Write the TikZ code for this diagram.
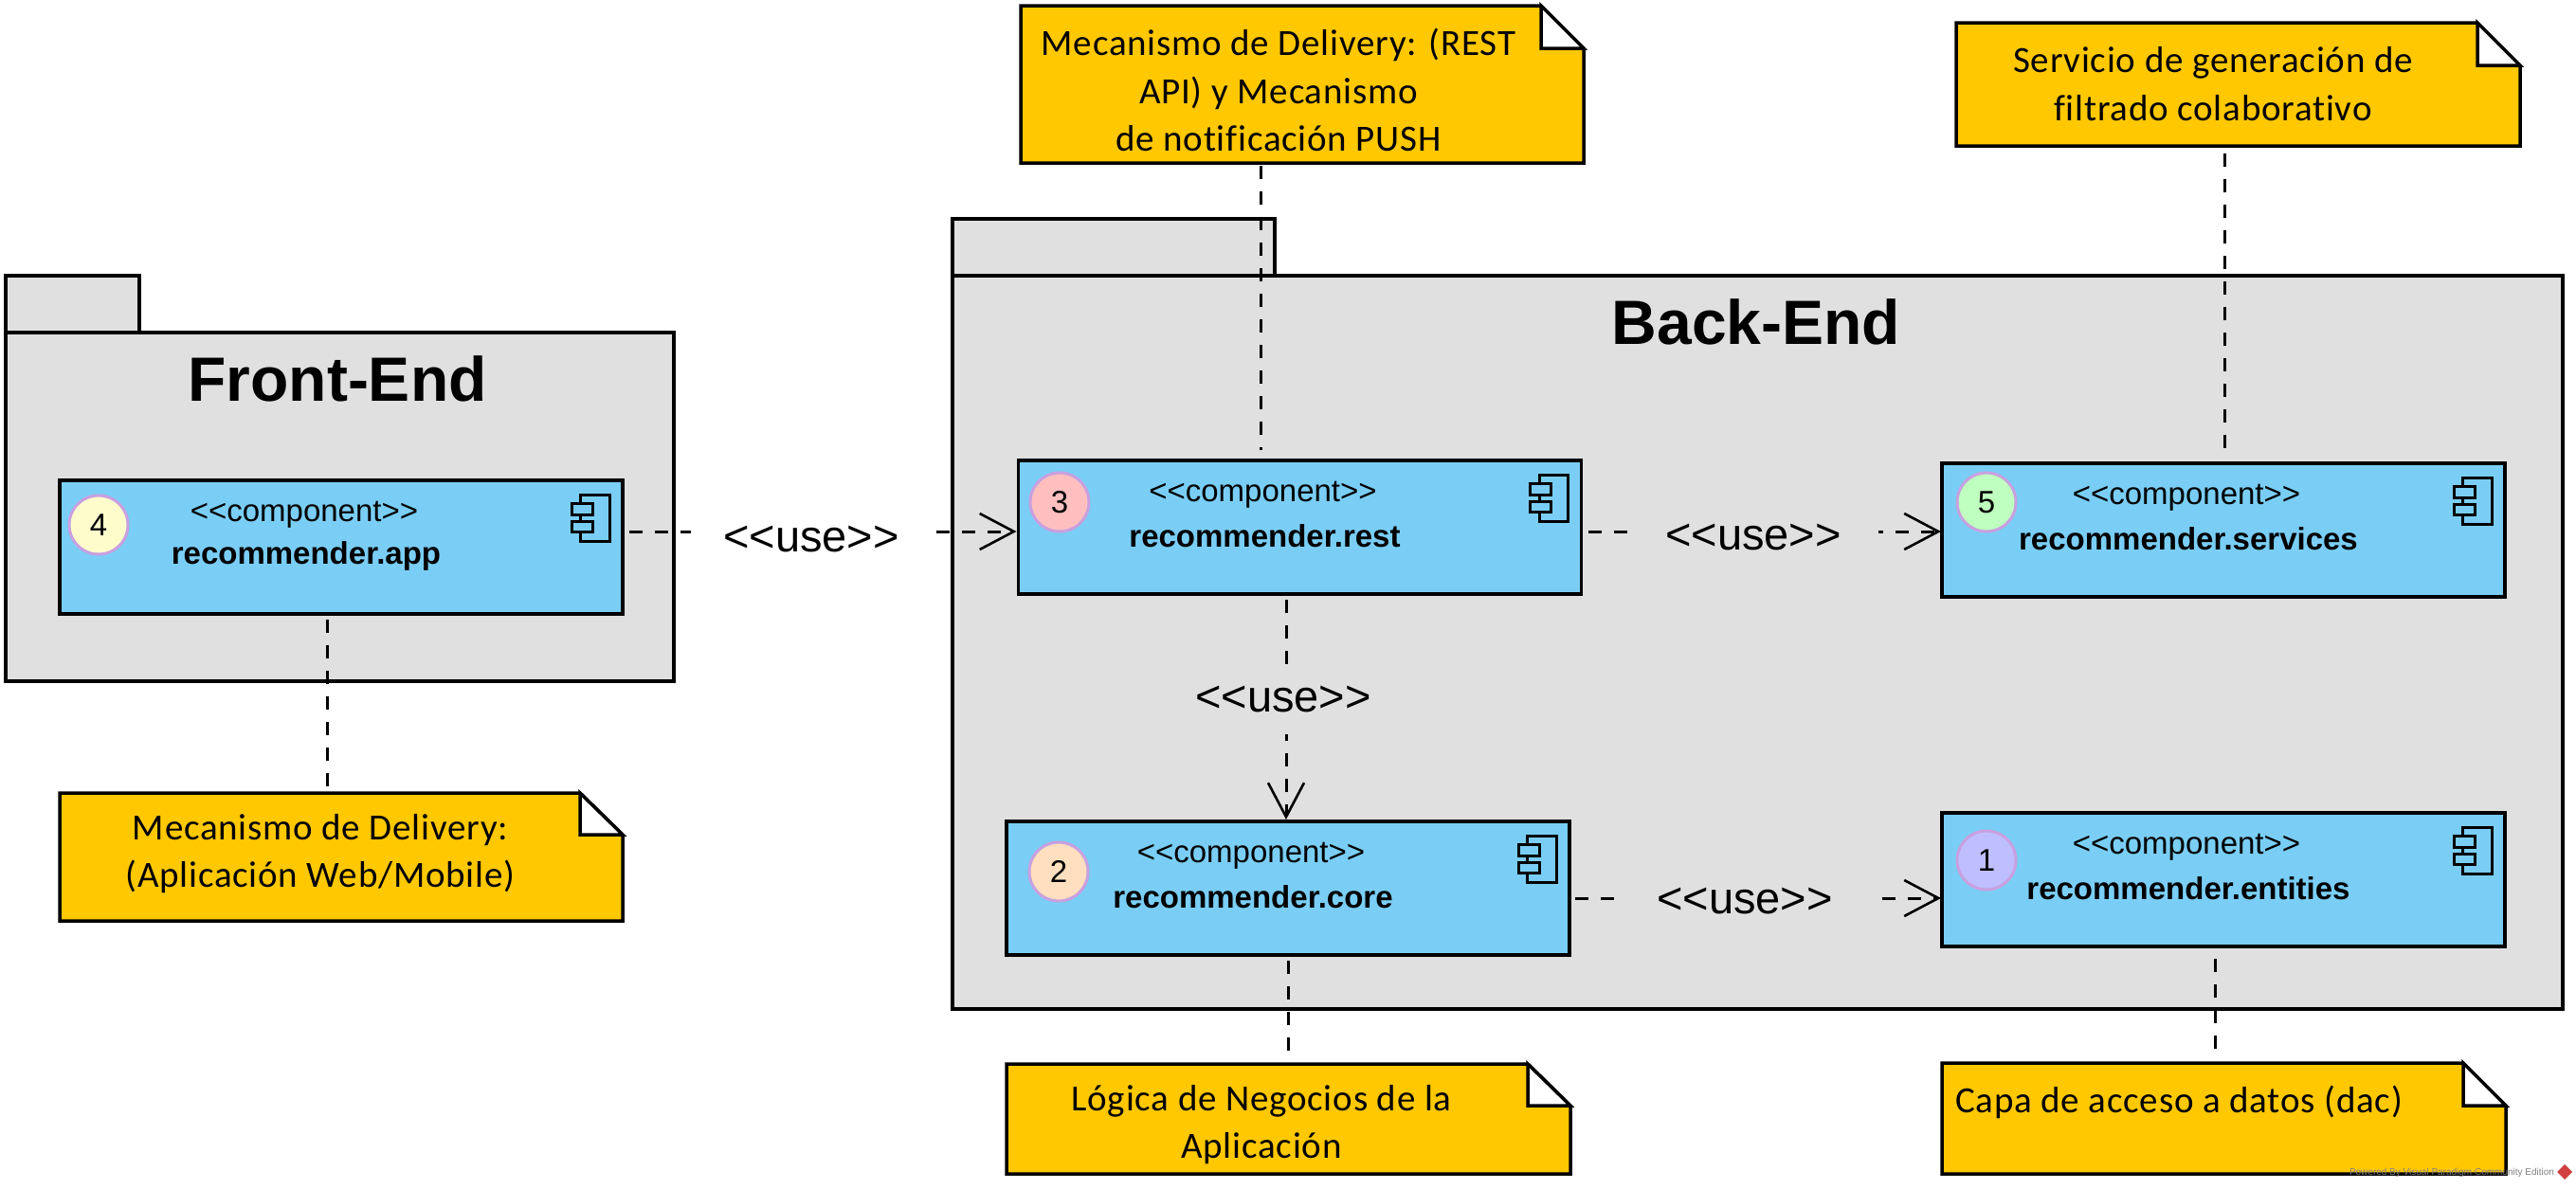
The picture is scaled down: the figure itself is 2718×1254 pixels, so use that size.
\documentclass[tikz,border=0pt]{standalone}
\usepackage{fontspec}
\usetikzlibrary{arrows.meta,calc}
\newfontfamily\arialf{Liberation Sans}
\newfontfamily\calf[LetterSpace=2,Ligatures={NoCommon}]{Carlito}
\definecolor{pkggray}{HTML}{E0E0E0}
\definecolor{compblue}{HTML}{7ACEF5}
\definecolor{noteyel}{HTML}{FFC800}
\definecolor{circline}{HTML}{C8A0E0}
\definecolor{wmgray}{HTML}{808080}
\definecolor{wmred}{HTML}{D04040}
\tikzset{
  x=1pt,y=-1pt,
  every node/.style={inner sep=0pt,outer sep=0pt,font=\arialf},
  pkgbox/.style={draw=black,fill=pkggray,line width=3.5pt,anchor=north west},
  pkgtitle/.style={font=\arialf\bfseries\fontsize{66}{66}\selectfont},
  compbox/.style={draw=black,fill=compblue,line width=3.5pt,anchor=north west,minimum width=594pt,minimum height=141pt},
  stereo/.style={font=\arialf\fontsize{33}{33}\selectfont},
  compname/.style={font=\arialf\bfseries\fontsize{33}{33}\selectfont},
  numcirc/.style={circle,draw=circline,line width=3pt,minimum size=62pt,font=\arialf\fontsize{33}{33}\selectfont},
  icon/.style={draw=black,line width=3pt},
  notepoly/.style={draw=black,fill=noteyel,line width=3.5pt,line join=miter},
  notefold/.style={draw=black,fill=white,line width=3.5pt,line join=miter},
  notearea/.style={anchor=north west},
  notetext/.style={align=center,font=\calf\fontsize{39}{50.5}\selectfont},
  anchorline/.style={draw=black,line width=3pt,dash pattern=on 14pt off 13pt},
  usedep/.style={draw=black,line width=3pt,dash pattern=on 14pt off 13pt,
    arrows={-{Straight Barb[length=36pt,width=38pt,line width=2.6pt]}}},
  uselabel/.style={font=\arialf\fontsize{47}{47}\selectfont}
}
% #1 name, #2 x1, #3 y1, #4 x2, #5 y2, #6 fold x, #7 fold y
\newcommand{\notebox}[7]{%
  \draw[notepoly] (#2,#3) -- (#6,#3) -- (#4,#7) -- (#4,#5) -- (#2,#5) -- cycle;
  \draw[notefold] (#6,#3) -- (#6,#7) -- (#4,#7) -- cycle;
  \pgfmathsetmacro{\nw}{#4-#2}\pgfmathsetmacro{\nh}{#5-#3}
  \node[notearea,minimum width=\nw pt,minimum height=\nh pt] (#1) at (#2,#3) {};
}
% #1 name, #2 x, #3 y, #4 number, #5 colour, #6 circle dx, #7 circle dy, #8 label
\newcommand{\compbox}[8]{%
  \node[compbox] (#1) at (#2,#3) {};
  \node[numcirc,fill=#5] (#1num) at ($(#1.north west)+(#6,#7)$) {#4};
  \node[stereo] (#1ster) at ($(#1.north west)+(258,36.5)$) {<{}<component>{}>};
  \node[compname] (#1name) at ($(#1.north west)+(260,80)$) {#8};
  \begin{scope}[shift={(#1.north east)}]
    \draw[icon] (-44.5,15) rectangle (-14,64);
    \draw[icon,fill=compblue] (-54,24.5) rectangle (-32,36);
    \draw[icon,fill=compblue] (-54,43) rectangle (-32,54);
  \end{scope}
}
\begin{document}
\begin{tikzpicture}
\useasboundingbox (0,0) rectangle (2718,1254);
\fill[white] (0,0) rectangle (2718,1254);
% packages
\node[pkgbox,minimum width=141pt,minimum height=60pt] (frontTab) at (6,291) {};
\node[pkgbox,minimum width=705pt,minimum height=368pt] (front) at (6,351) {};
\node[pkgtitle] (frontTitle) at (356,400) {Front-End};
\node[pkgbox,minimum width=340pt,minimum height=60pt] (backTab) at (1005,231) {};
\node[pkgbox,minimum width=1699pt,minimum height=774pt] (back) at (1005,291) {};
\node[pkgtitle] (backTitle) at (1853,340) {Back-End};
% components
\compbox{app}{63}{507}{4}{yellow!20}{41}{47}{recommender.app}
\compbox{rest}{1074.5}{486}{3}{red!25}{43.5}{44}{recommender.rest}
\compbox{services}{2049}{489}{5}{green!25}{47}{41}{recommender.services}
\compbox{core}{1062}{867}{2}{orange!25}{55}{53}{recommender.core}
\compbox{entities}{2049}{858}{1}{blue!25}{47}{50}{recommender.entities}
% notes
\notebox{nApp}{63}{837}{657}{972}{612}{881}
\node[notetext] (nAppT) at (338,901) {Mecanismo de Delivery:\\(Aplicación Web/Mobile)};
\notebox{nRest}{1077}{6}{1671}{172}{1626}{51}
\node[notetext] (nRestT) at (1349,95) {Mecanismo de Delivery: (REST\\API) y Mecanismo\\de notificación PUSH};
\notebox{nServ}{2064}{24}{2659}{154}{2614}{69}
\node[notetext] (nServT) at (2335,88.5) {Servicio de generación de\\filtrado colaborativo};
\notebox{nCore}{1062}{1123}{1657}{1239}{1612}{1167}
\node[notetext] (nCoreT) at (1331,1187) {Lógica de Negocios de la\\Aplicación};
\notebox{nEnt}{2049}{1122}{2644}{1239}{2599}{1167}
\node[notetext,anchor=west] (nEntT) at (2063,1163) {Capa de acceso a datos (dac)};
% connector guides
\coordinate (xApp) at (345,0);
\coordinate (xRest) at (1330,0);
\coordinate (xServ) at (2347,0);
\coordinate (xCore) at (1359,0);
\coordinate (xEnt) at (2337,0);
\coordinate (xDown) at (1357,0);
\coordinate (yTop) at (0,561);
\coordinate (yBot) at (0,948);
% note anchors
\draw[anchorline,shorten <=6pt,shorten >=2pt] (app.south -| xApp) -- (nApp.north -| xApp);
\draw[anchorline,shorten <=3pt,shorten >=11pt] (nRest.south -| xRest) -- (rest.north -| xRest);
\draw[anchorline,shorten <=8pt,shorten >=3pt] (nServ.south -| xServ) -- (services.north -| xServ);
\draw[anchorline,shorten <=6pt,shorten >=3pt] (core.south -| xCore) -- (nCore.north -| xCore);
\draw[anchorline,shorten <=13pt,shorten >=2pt] (entities.south -| xEnt) -- (nEnt.north -| xEnt);
% use dependencies
\draw[usedep,shorten <=7pt,shorten >=2pt] (app.east |- yTop) -- (rest.west |- yTop);
\node[uselabel,fill=white,minimum width=255pt] (useA) at (856,569) {<{}<use>{}>};
\draw[usedep,shorten <=7pt,shorten >=1pt] (rest.east |- yTop) -- (services.west |- yTop);
\node[uselabel,fill=pkggray,minimum width=263pt] (useB) at (1850,567) {<{}<use>{}>};
\draw[usedep,shorten <=6pt,shorten >=2pt] (rest.south -| xDown) -- (core.north -| xDown);
\node[uselabel,fill=pkggray,minimum height=73pt] (useC) at (1354,738) {<{}<use>{}>};
\draw[usedep,shorten <=6pt,shorten >=1pt] (core.east |- yBot) -- (entities.west |- yBot);
\node[uselabel,fill=pkggray,minimum width=265pt] (useD) at (1841,951) {<{}<use>{}>};
% watermark
\node[text=wmgray,font=\arialf\fontsize{10}{10}\selectfont,anchor=east] (wm) at (2695,1238) {Powered By Visual Paradigm Community Edition};
\fill[wmred] (2706,1229) -- (2714,1237) -- (2706,1245) -- (2698,1237) -- cycle;
\end{tikzpicture}
\end{document}
